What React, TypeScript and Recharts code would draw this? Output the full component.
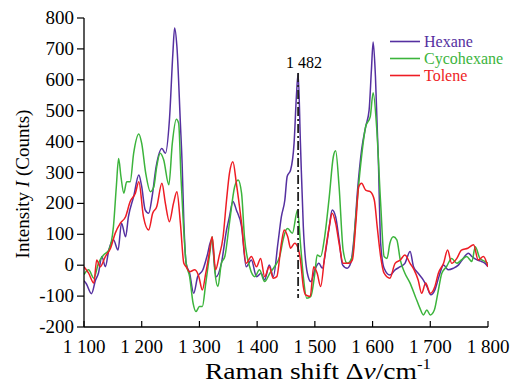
import { Line, LineChart, ReferenceLine, XAxis, YAxis } from 'recharts';

const FONT = '"Liberation Serif", "Times New Roman", Times, serif';

const X_TICKS = [1100, 1200, 1300, 1400, 1500, 1600, 1700, 1800];
const Y_TICKS = [-200, -100, 0, 100, 200, 300, 400, 500, 600, 700, 800];

const HEXANE: [number, number][] = [
  [1100, -50], [1104, -60], [1113, -92], [1120, -48], [1125, -26], [1131, 28], [1137, -5], [1143, 49],
  [1151, 82], [1159, 49], [1165, 136], [1172, 92], [1177, 157], [1186, 222], [1195, 292], [1200, 254],
  [1206, 179], [1212, 168], [1218, 222], [1225, 319], [1235, 378], [1241, 362], [1248, 470], [1254, 686],
  [1257, 768], [1261, 707], [1267, 459], [1270, 330], [1273, 140], [1277, 6], [1283, -26], [1290, -91],
  [1297, -37], [1306, -15], [1313, 28], [1321, 82], [1329, -37], [1338, 6], [1347, 114], [1352, 157],
  [1358, 206], [1364, 179], [1373, 125], [1381, -5], [1390, 17], [1399, -37], [1407, -26], [1413, -48],
  [1421, 1], [1428, -37], [1436, 71], [1442, 157], [1448, 211], [1452, 287], [1458, 308], [1464, 395],
  [1468, 546], [1471, 620], [1475, 395], [1480, 125], [1487, -26], [1493, -53], [1500, -15], [1507, 6],
  [1513, -10], [1519, 49], [1525, 125], [1530, 179], [1536, 157], [1542, 82], [1548, 1], [1556, -10],
  [1562, 6], [1568, 92], [1574, 243], [1581, 373], [1588, 448], [1594, 502], [1598, 632], [1601, 722],
  [1605, 610], [1610, 341], [1614, 71], [1620, -10], [1630, -32], [1639, -15], [1648, -5], [1656, 6],
  [1665, 44], [1671, -5], [1679, -26], [1688, -48], [1694, -69], [1701, -96], [1708, -80], [1715, -37],
  [1723, 1], [1731, -15], [1740, -10], [1749, 1], [1757, 22], [1766, 39], [1772, 28], [1781, 17],
  [1789, 12], [1795, 6], [1800, -5]
];

const CYCOHEXANE: [number, number][] = [
  [1100, -30], [1108, -15], [1117, -42], [1125, 6], [1134, 33], [1143, 49], [1151, 125], [1156, 254],
  [1160, 345], [1164, 287], [1169, 233], [1174, 270], [1180, 270], [1186, 362], [1195, 425], [1200, 394],
  [1207, 297], [1215, 238], [1221, 254], [1226, 319], [1232, 362], [1238, 341], [1247, 260], [1253, 394],
  [1260, 472], [1264, 459], [1268, 287], [1272, 140], [1277, 6], [1283, -37], [1289, -123], [1294, -150],
  [1300, -134], [1305, -134], [1311, -58], [1318, 39], [1322, 92], [1327, -26], [1332, -69], [1338, 6],
  [1344, 28], [1352, 136], [1361, 254], [1367, 276], [1373, 233], [1378, 92], [1387, -5], [1396, -37],
  [1404, -15], [1413, -53], [1422, -26], [1430, -5], [1439, 28], [1445, 82], [1450, 114], [1453, 119],
  [1461, 103], [1470, 179], [1475, 71], [1480, -37], [1486, -107], [1493, -101], [1500, -26], [1504, 33],
  [1510, 28], [1517, 92], [1525, 222], [1532, 351], [1536, 370], [1542, 254], [1549, 49], [1556, 6],
  [1565, 28], [1571, 157], [1579, 319], [1588, 448], [1596, 481], [1601, 558], [1607, 448], [1614, 200],
  [1620, 28], [1625, 22], [1630, 71], [1636, 92], [1642, 82], [1648, 17], [1656, -26], [1665, -58],
  [1674, -101], [1682, -139], [1688, -161], [1694, -145], [1700, -161], [1707, -145], [1713, -91],
  [1720, -26], [1728, -5], [1737, 22], [1746, 6], [1754, 17], [1763, 28], [1772, 12], [1778, 60],
  [1786, 22], [1795, 12], [1800, 6]
];

const TOLENE: [number, number][] = [
  [1100, -5], [1108, -26], [1117, -58], [1122, 17], [1128, -5], [1137, 28], [1146, 55], [1154, 103],
  [1163, 136], [1172, 157], [1180, 206], [1189, 233], [1195, 270], [1203, 157], [1212, 114], [1219, 168],
  [1226, 189], [1235, 265], [1241, 200], [1248, 141], [1255, 200], [1261, 238], [1267, 136], [1273, 6],
  [1277, -5], [1283, -21], [1292, -15], [1299, -37], [1305, -80], [1311, -26], [1317, 39], [1322, 92],
  [1328, -15], [1334, 28], [1341, 92], [1347, 211], [1352, 297], [1358, 335], [1364, 265], [1373, 136],
  [1381, 6], [1390, 28], [1399, -5], [1406, 22], [1413, -37], [1421, -5], [1428, -42], [1434, -37],
  [1442, 71], [1447, 114], [1453, 92], [1458, 55], [1465, 71], [1471, 55], [1475, 17], [1480, -69],
  [1484, -96], [1492, -101], [1498, -5], [1504, -26], [1510, -69], [1517, 28], [1525, 125], [1530, 168],
  [1536, 136], [1542, 71], [1549, 6], [1559, 6], [1565, 17], [1571, 136], [1576, 254], [1581, 265],
  [1588, 243], [1596, 238], [1603, 211], [1608, 125], [1614, 28], [1620, -26], [1630, -42], [1639, 6],
  [1648, 17], [1656, 33], [1665, 6], [1672, -15], [1679, -48], [1685, -91], [1692, -58], [1700, -91],
  [1708, -69], [1714, -26], [1723, 6], [1730, 49], [1737, 6], [1746, 22], [1754, 49], [1765, 55],
  [1775, 66], [1783, 17], [1792, 28], [1800, -5]
];

const PEAK = { x: 1471, top: 622, bottom: -106, label: '1 482' };

const SERIES = [
  { name: 'Hexane', color: '#5530a0', points: HEXANE },
  { name: 'Cycohexane', color: '#3cb43c', points: CYCOHEXANE },
  { name: 'Tolene', color: '#ee1c24', points: TOLENE }
];

const toRows = (pts: [number, number][]) => pts.map(([x, y]) => ({ x, y }));

function XTick(props: any) {
  const { x, y, payload } = props;
  const v = String(payload.value);
  const text = v.length === 4 ? `${v[0]} ${v.slice(1)}` : v;
  return (
    <g>
      <line x1={x} x2={x} y1={y} y2={y - 6} stroke="#000" strokeWidth={1.2} />
      <text x={x} y={y + 26} textAnchor="middle" style={{ fontFamily: FONT, fontSize: 19 }} fill="#000">
        {text}
      </text>
    </g>
  );
}

function YTick(props: any) {
  const { x, y, payload } = props;
  return (
    <text x={x} y={y} dy={6} textAnchor="end" style={{ fontFamily: FONT, fontSize: 19 }} fill="#000">
      {payload.value}
    </text>
  );
}

function LegendBox() {
  return (
    <div style={{ position: 'absolute', left: 390, top: 33, fontFamily: FONT, fontSize: 16, lineHeight: '17px' }}>
      {SERIES.map((s) => (
        <div key={s.name} style={{ display: 'flex', alignItems: 'center' }}>
          <svg width={32} height={17} style={{ marginRight: 2 }}>
            <line x1={0} x2={30} y1={8.5} y2={8.5} stroke={s.color} strokeWidth={1.6} />
          </svg>
          <span style={{ color: s.color }}>{s.name}</span>
        </div>
      ))}
    </div>
  );
}

export default function App() {
  return (
    <div style={{ position: 'relative', width: 520, height: 383, background: '#fff', fontFamily: FONT }}>
      <style>{'body{margin:0}'}</style>
      <LineChart
        width={520}
        height={383}
        margin={{ top: 18, right: 32, bottom: 26, left: 24 }}
        style={{ fontFamily: FONT }}
      >
        <XAxis
          type="number"
          dataKey="x"
          domain={[1100, 1800]}
          ticks={X_TICKS}
          interval={0}
          allowDataOverflow
          height={30}
          tickSize={0}
          tickMargin={0}
          tickLine={false}
          tick={<XTick />}
          axisLine={{ stroke: '#000', strokeWidth: 1.3 }}
          label={{
            content: () => (
              <text
                x={205}
                y={379}
                textLength={226}
                lengthAdjust="spacingAndGlyphs"
                style={{ fontFamily: FONT, fontSize: 23 }}
                fill="#000"
              >
                Raman shift Δ<tspan fontStyle="italic">ν</tspan>/cm
                <tspan style={{ fontSize: 14 }} dy={-10}>-1</tspan>
              </text>
            )
          }}
        />
        <YAxis
          type="number"
          domain={[-200, 800]}
          ticks={Y_TICKS}
          interval={0}
          width={60}
          tickSize={7}
          tickMargin={3}
          tick={<YTick />}
          tickLine={{ stroke: '#000', strokeWidth: 1.2 }}
          axisLine={{ stroke: '#000', strokeWidth: 1.3 }}
          label={{
            content: () => (
              <text
                x={29}
                y={184}
                transform="rotate(-90 29 184)"
                textAnchor="middle"
                style={{ fontFamily: FONT, fontSize: 19 }}
                fill="#000"
              >
                Intensity <tspan fontStyle="italic">I</tspan> (Counts)
              </text>
            )
          }}
        />
        {SERIES.map((s) => (
          <Line
            key={s.name}
            data={toRows(s.points)}
            dataKey="y"
            name={s.name}
            type="monotone"
            stroke={s.color}
            strokeWidth={1.5}
            dot={false}
            activeDot={false}
            isAnimationActive={false}
          />
        ))}
        <ReferenceLine
          segment={[{ x: PEAK.x, y: PEAK.top }, { x: PEAK.x, y: PEAK.bottom }]}
          stroke="#222"
          strokeWidth={1.8}
          strokeDasharray="9 3 2 3"
          label={{ value: PEAK.label, position: 'top', offset: 5, dx: 6, fontSize: 16, fontFamily: FONT, fill: '#000' }}
        />
      </LineChart>
      <LegendBox />
    </div>
  );
}
